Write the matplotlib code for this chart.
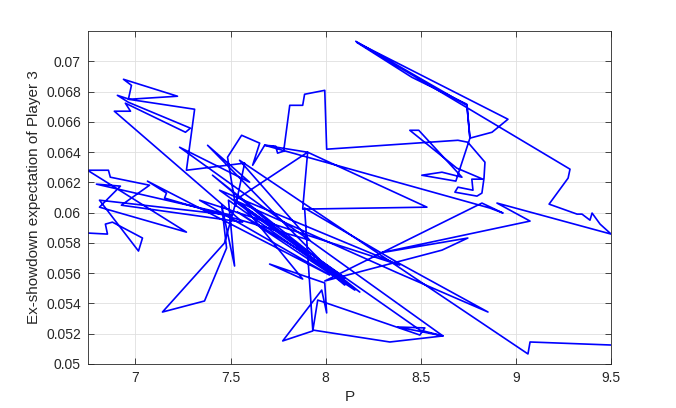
import matplotlib
matplotlib.use("Agg")
import matplotlib.pyplot as plt

plt.rcParams['font.family'] = ['Liberation Sans', 'DejaVu Sans']

P = [6.748, 6.853, 6.842, 6.879, 7.037, 7.016, 6.811, 7.505, 6.795, 6.921,
     6.811, 7.268, 6.748, 6.858, 6.868, 7.074, 6.926, 7.563, 6.889, 6.974,
     6.947, 7.263, 7.289, 6.963, 6.905, 6.968, 7.221, 6.937, 6.979, 6.963,
     7.311, 7.268, 7.574, 7.526, 7.484, 7.558, 7.653, 7.616, 7.679, 7.737,
     7.747, 7.779, 7.811, 7.879, 7.889, 7.995, 8.005, 8.695, 8.747, 8.837,
     8.832, 8.821, 8.795, 8.679, 8.695, 8.774, 8.768, 8.826, 8.689, 8.442,
     8.489, 8.716, 8.611, 8.505, 8.684, 8.758, 8.742, 8.453, 8.163, 8.958,
     8.874, 8.758, 8.742, 8.158, 9.284, 9.274, 9.174, 9.321, 9.347, 9.389,
     9.400, 9.442, 9.500, 8.900, 9.074, 8.284, 8.747, 8.611, 7.995, 8.821,
     8.932, 8.863, 7.679, 7.905, 7.879, 8.532, 7.905, 7.532, 7.468, 7.142,
     7.363, 7.479, 7.453, 7.521, 7.489, 8.153, 7.537, 8.100, 7.563, 7.879,
     7.705, 7.995, 8.005, 7.979, 7.774, 7.932, 7.958, 8.495, 8.521, 8.379,
     8.616, 8.495, 7.521, 8.379, 8.853, 8.374, 7.889, 7.932, 8.337, 8.616,
     7.232, 7.600, 7.379, 8.100, 7.405, 8.179, 7.442, 8.389, 7.337, 8.021,
     7.063, 7.163, 7.153, 7.916,
     7.547, 9.063, 9.074, 9.500]

expectation = [0.05865, 0.05858, 0.05924, 0.05937, 0.05832, 0.05746, 0.06082, 0.05983, 0.06188, 0.06175,
               0.06036, 0.05871, 0.06280, 0.06280, 0.06234, 0.06181, 0.06049, 0.05937, 0.06670, 0.06670,
               0.06723, 0.06531, 0.06558, 0.06729, 0.06775, 0.06749, 0.06769, 0.06881, 0.06841, 0.06749,
               0.06683, 0.06280, 0.06327, 0.06043, 0.06366, 0.06511, 0.06459, 0.06313, 0.06445, 0.06439,
               0.06393, 0.06406, 0.06709, 0.06709, 0.06782, 0.06808, 0.06419, 0.06478, 0.06465, 0.06333,
               0.06228, 0.06129, 0.06109, 0.06135, 0.06168, 0.06148, 0.06221, 0.06221, 0.06294, 0.06544,
               0.06544, 0.06234, 0.06267, 0.06247, 0.06208, 0.06492, 0.06716, 0.06894, 0.07125, 0.06617,
               0.06531, 0.06492, 0.06709, 0.07132, 0.06287, 0.06228, 0.06056, 0.05990, 0.05990, 0.05950,
               0.05997, 0.05924, 0.05858, 0.06063, 0.05944, 0.05733, 0.05832, 0.05752, 0.05548, 0.06063,
               0.05997, 0.06030, 0.06445, 0.06399, 0.06023, 0.06036, 0.06399, 0.06089, 0.05799, 0.05343,
               0.05416, 0.05766, 0.06049, 0.05647, 0.06082, 0.05488, 0.06003, 0.05568, 0.06049, 0.05561,
               0.05660, 0.05535, 0.05337, 0.05488, 0.05152, 0.05218, 0.05422, 0.05191, 0.05238, 0.05244,
               0.05185, 0.05224, 0.06082, 0.05601, 0.05343, 0.05673, 0.06030, 0.05224, 0.05145, 0.05185,
               0.06432, 0.06201, 0.06445, 0.05521, 0.06247, 0.05475, 0.06148, 0.05653, 0.06082, 0.05587,
               0.06208, 0.06129, 0.06096, 0.05818,
               0.06346, 0.05066, 0.05145, 0.05125]

x_ticks = [7, 7.5, 8, 8.5, 9, 9.5]
x_tick_labels = ['7', '7.5', '8', '8.5', '9', '9.5']
y_ticks = [0.05, 0.052, 0.054, 0.056, 0.058, 0.06, 0.062, 0.064, 0.066, 0.068, 0.07]
y_tick_labels = ['0.05', '0.052', '0.054', '0.056', '0.058', '0.06', '0.062', '0.064', '0.066', '0.068', '0.07']

fig = plt.figure(figsize=(6.76, 4.08), dpi=100)
ax = fig.add_axes([0.130, 0.108, 0.774, 0.816])
ax.plot(P, expectation, color=(0, 0, 1), linewidth=1.2)

ax.set_xlim(6.75, 9.5)
ax.set_ylim(0.05, 0.072)
ax.set_xticks(x_ticks)
ax.set_xticklabels(x_tick_labels)
ax.set_yticks(y_ticks)
ax.set_yticklabels(y_tick_labels)

axis_color = '#262626'
ax.grid(True, color='#dfdfdf', linewidth=0.6)
ax.set_axisbelow(True)
for s in ax.spines.values():
    s.set_color(axis_color)
    s.set_linewidth(0.6)
ax.tick_params(direction='in', top=True, right=True, length=4, width=0.6,
               colors=axis_color, labelsize=10, pad=5)
ax.set_xlabel('P', fontsize=11, color=axis_color)
ax.set_ylabel('Ex-showdown expectation of Player 3', fontsize=11, color=axis_color)

fig.savefig('out.png', dpi=100)
